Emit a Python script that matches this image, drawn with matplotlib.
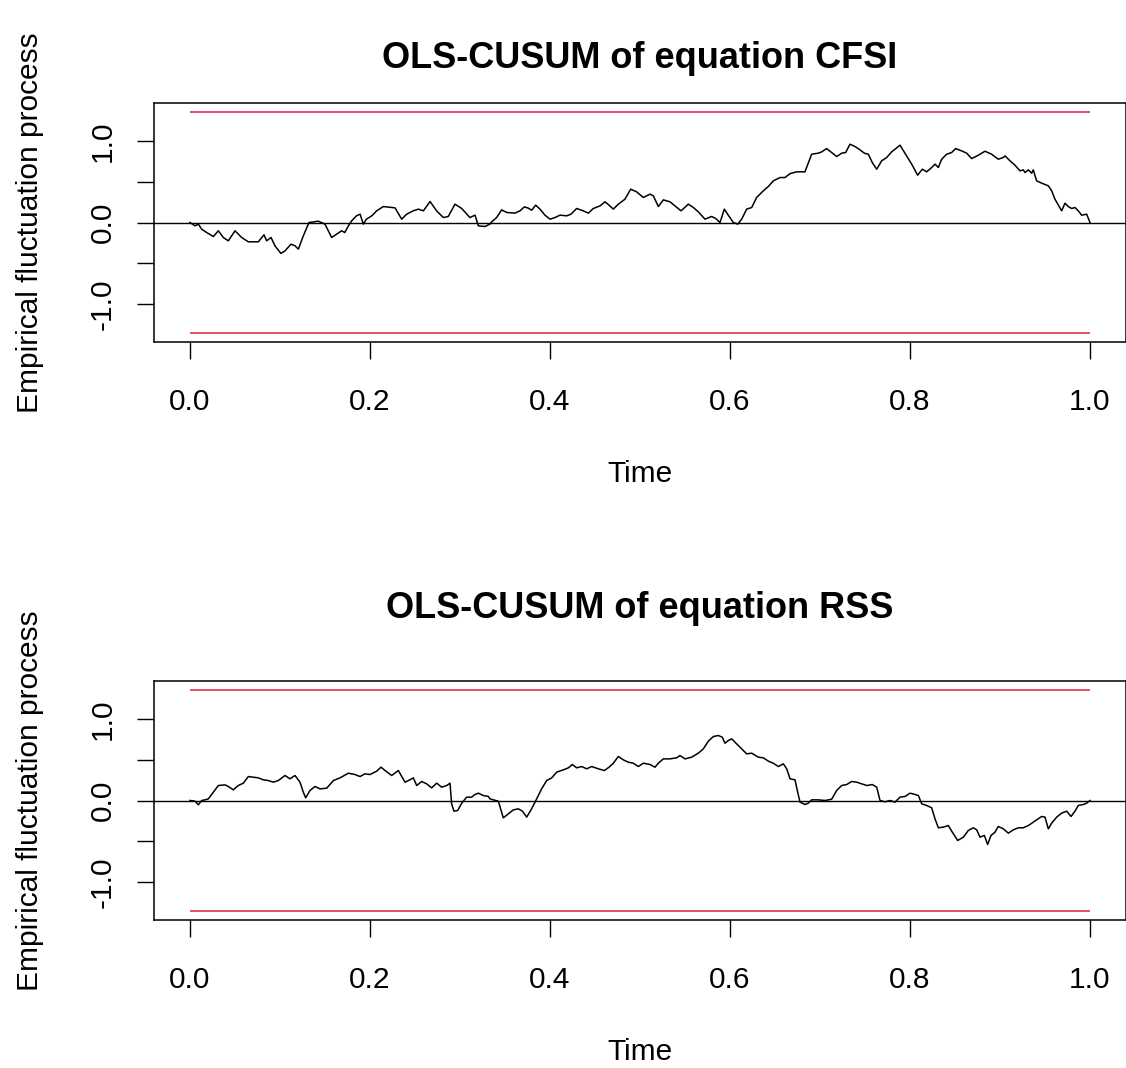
import matplotlib
matplotlib.use("Agg")
import matplotlib.pyplot as plt

plt.rcParams['font.family'] = ['Liberation Sans', 'DejaVu Sans']

# ---- data ----
t_cfsi = [0, 0.0056, 0.0093, 0.013, 0.0185, 0.026, 0.0315, 0.037, 0.0426, 0.05,
          0.0574, 0.0648, 0.0759, 0.0822, 0.0852, 0.09, 0.0944, 0.101, 0.1056, 0.1122,
          0.1167, 0.1204, 0.1259, 0.1322, 0.1426, 0.15, 0.1574, 0.163, 0.1685, 0.172,
          0.176, 0.1796, 0.185, 0.189, 0.1926, 0.196, 0.202, 0.2074, 0.2148, 0.2278,
          0.2352, 0.2407, 0.248, 0.2537, 0.2593, 0.2667, 0.274, 0.2815, 0.287, 0.2944,
          0.3019, 0.311, 0.3167, 0.3204, 0.3278, 0.3333, 0.3352, 0.3407, 0.3463, 0.3519,
          0.3611, 0.3667, 0.3715, 0.3759, 0.3796, 0.3841, 0.3889, 0.3944, 0.4, 0.4056,
          0.4111, 0.4185, 0.4233, 0.4296, 0.437, 0.4426, 0.4481, 0.4556, 0.4611, 0.4656,
          0.4704, 0.4759, 0.4833, 0.4896, 0.4963, 0.5037, 0.5111, 0.5148, 0.5204, 0.5259,
          0.5333, 0.5389, 0.5456, 0.5537, 0.5593, 0.5648, 0.5722, 0.5796, 0.5841, 0.5889,
          0.5937, 0.5981, 0.6037, 0.6085, 0.613, 0.6185, 0.6241, 0.6296, 0.637, 0.6426,
          0.6481, 0.6556, 0.6611, 0.6667, 0.6741, 0.6833, 0.6907, 0.6981, 0.7019, 0.7074,
          0.713, 0.7185, 0.7241, 0.7285, 0.7333, 0.7389, 0.7444, 0.7493, 0.7537, 0.7581,
          0.763, 0.7685, 0.7741, 0.7796, 0.7889, 0.7944, 0.8019, 0.8085, 0.8137, 0.8185,
          0.8241, 0.8278, 0.8315, 0.8352, 0.8407, 0.8463, 0.8507, 0.8574, 0.863, 0.8685,
          0.8759, 0.8833, 0.8907, 0.8981, 0.9037, 0.9056, 0.9111, 0.9167, 0.9222, 0.9259,
          0.9278, 0.9315, 0.9352, 0.937, 0.9407, 0.9463, 0.9537, 0.9574, 0.9611, 0.9685,
          0.9722, 0.9759, 0.9796, 0.9833, 0.987, 0.9907, 0.9963, 1.0]
v_cfsi = [0, -0.041, -0.020, -0.082, -0.123, -0.172, -0.102, -0.184, -0.225, -0.102,
          -0.184, -0.237, -0.237, -0.151, -0.225, -0.184, -0.286, -0.380, -0.348, -0.266,
          -0.286, -0.327, -0.164, 0.0, 0.016, -0.020, -0.184, -0.143, -0.102, -0.123,
          -0.041, 0.020, 0.082, 0.102, -0.020, 0.041, 0.082, 0.143, 0.196, 0.180,
          0.041, 0.102, 0.143, 0.164, 0.143, 0.258, 0.143, 0.061, 0.074, 0.225,
          0.172, 0.061, 0.090, -0.041, -0.049, -0.020, 0.008, 0.061, 0.155, 0.123,
          0.115, 0.143, 0.192, 0.176, 0.151, 0.213, 0.164, 0.090, 0.041, 0.061,
          0.090, 0.082, 0.102, 0.172, 0.143, 0.115, 0.172, 0.204, 0.254, 0.213,
          0.164, 0.225, 0.286, 0.409, 0.376, 0.307, 0.348, 0.327, 0.196, 0.278,
          0.254, 0.204, 0.143, 0.225, 0.184, 0.131, 0.041, 0.074, 0.049, 0.0,
          0.164, 0.090, 0.0, -0.020, 0.041, 0.164, 0.184, 0.307, 0.389, 0.442,
          0.511, 0.552, 0.552, 0.600, 0.622, 0.622, 0.838, 0.851, 0.867, 0.908,
          0.859, 0.810, 0.851, 0.859, 0.961, 0.933, 0.892, 0.851, 0.838, 0.736,
          0.654, 0.757, 0.798, 0.867, 0.949, 0.851, 0.716, 0.581, 0.654, 0.622,
          0.675, 0.716, 0.675, 0.777, 0.838, 0.859, 0.908, 0.879, 0.851, 0.785,
          0.826, 0.875, 0.838, 0.777, 0.798, 0.818, 0.757, 0.703, 0.634, 0.646,
          0.613, 0.646, 0.605, 0.646, 0.511, 0.483, 0.450, 0.389, 0.286, 0.143,
          0.237, 0.196, 0.172, 0.184, 0.143, 0.090, 0.102, 0.0]

t_rss = [0, 0.0056, 0.0093, 0.013, 0.0167, 0.0204, 0.026, 0.0315, 0.0389, 0.0426,
         0.0481, 0.0537, 0.0593, 0.0648, 0.0704, 0.0759, 0.0815, 0.087, 0.0926, 0.0981,
         0.1056, 0.1111, 0.1167, 0.1222, 0.1259, 0.1285, 0.1333, 0.1389, 0.1444, 0.1519,
         0.1593, 0.1667, 0.1759, 0.1833, 0.1889, 0.1944, 0.2, 0.2074, 0.2122, 0.2167,
         0.2241, 0.2315, 0.2389, 0.2444, 0.2481, 0.2519, 0.2574, 0.263, 0.2685, 0.2741,
         0.2796, 0.2852, 0.2889, 0.2907, 0.2933, 0.2974, 0.3019, 0.3074, 0.313, 0.3167,
         0.3204, 0.3259, 0.3315, 0.3333, 0.337, 0.3426, 0.3481, 0.3537, 0.3593, 0.3648,
         0.3693, 0.3741, 0.3796, 0.3852, 0.3907, 0.3963, 0.4019, 0.4074, 0.4148, 0.4204,
         0.4248, 0.4296, 0.4352, 0.4407, 0.4463, 0.4537, 0.4604, 0.4656, 0.4704, 0.4759,
         0.4815, 0.487, 0.4926, 0.4981, 0.5037, 0.5111, 0.5167, 0.5204, 0.5259, 0.5333,
         0.5407, 0.5444, 0.55, 0.5574, 0.5648, 0.5704, 0.5759, 0.5815, 0.587, 0.5915,
         0.5944, 0.5981, 0.6019, 0.6074, 0.613, 0.6185, 0.6241, 0.6315, 0.637, 0.6426,
         0.6481, 0.6537, 0.6593, 0.663, 0.6667, 0.6722, 0.6752, 0.6778, 0.6833, 0.687,
         0.6907, 0.6981, 0.7056, 0.713, 0.7185, 0.7241, 0.7296, 0.7352, 0.7407, 0.7463,
         0.7519, 0.7581, 0.763, 0.7667, 0.7722, 0.7778, 0.7833, 0.7889, 0.7944, 0.8,
         0.8056, 0.8093, 0.813, 0.8185, 0.8241, 0.8278, 0.8315, 0.837, 0.8426, 0.8463,
         0.853, 0.8593, 0.8648, 0.8704, 0.8741, 0.8778, 0.8826, 0.8863, 0.89, 0.8944,
         0.8981, 0.9037, 0.9093, 0.9148, 0.9204, 0.9259, 0.9315, 0.937, 0.9426, 0.9463,
         0.95, 0.9537, 0.9574, 0.963, 0.9685, 0.9741, 0.9789, 0.9833, 0.987, 0.9926,
         0.9963, 1.0]
v_rss = [0, -0.008, -0.053, 0.0, 0.008, 0.020, 0.102, 0.184, 0.192, 0.172,
         0.131, 0.184, 0.213, 0.294, 0.286, 0.278, 0.254, 0.245, 0.225, 0.245,
         0.307, 0.266, 0.307, 0.225, 0.102, 0.033, 0.123, 0.172, 0.143, 0.151,
         0.245, 0.278, 0.335, 0.319, 0.294, 0.327, 0.319, 0.360, 0.409, 0.368,
         0.307, 0.368, 0.225, 0.254, 0.278, 0.184, 0.233, 0.204, 0.155, 0.213,
         0.164, 0.184, 0.213, -0.041, -0.131, -0.123, -0.033, 0.041, 0.041, 0.074,
         0.090, 0.061, 0.050, 0.020, 0.008, -0.008, -0.213, -0.164, -0.115, -0.102,
         -0.131, -0.204, -0.102, 0.020, 0.143, 0.245, 0.278, 0.348, 0.376, 0.401,
         0.442, 0.401, 0.417, 0.389, 0.417, 0.389, 0.368, 0.409, 0.458, 0.540,
         0.499, 0.470, 0.458, 0.417, 0.458, 0.442, 0.409, 0.458, 0.511, 0.511,
         0.524, 0.552, 0.511, 0.532, 0.581, 0.634, 0.728, 0.785, 0.798, 0.777,
         0.703, 0.736, 0.757, 0.695, 0.634, 0.573, 0.581, 0.532, 0.524, 0.483,
         0.458, 0.417, 0.450, 0.389, 0.266, 0.254, 0.102, -0.020, -0.049, -0.033,
         0.008, 0.008, 0.0, 0.016, 0.123, 0.184, 0.196, 0.233, 0.225, 0.204,
         0.184, 0.196, 0.164, 0.0, -0.016, 0.0, -0.020, 0.041, 0.049, 0.090,
         0.074, 0.061, -0.041, -0.061, -0.090, -0.225, -0.335, -0.327, -0.307, -0.376,
         -0.491, -0.450, -0.368, -0.335, -0.360, -0.450, -0.429, -0.540, -0.429, -0.389,
         -0.319, -0.348, -0.401, -0.360, -0.335, -0.335, -0.307, -0.266, -0.225, -0.196,
         -0.204, -0.348, -0.278, -0.204, -0.155, -0.131, -0.196, -0.131, -0.061, -0.049,
         -0.033, 0.0]

boundary = 1.358
titles = ["OLS-CUSUM of equation CFSI", "OLS-CUSUM of equation RSS"]
series = [(t_cfsi, v_cfsi), (t_rss, v_rss)]
xticks = [0.0, 0.2, 0.4, 0.6, 0.8, 1.0]
xtick_labels = ["0.0", "0.2", "0.4", "0.6", "0.8", "1.0"]
yticks = [-1.0, -0.5, 0.0, 0.5, 1.0]
ytick_labels = ["-1.0", "", "0.0", "", "1.0"]
xlabel = "Time"
ylabel = "Empirical fluctuation process"

W, H = 1126, 1068
fig = plt.figure(figsize=(W / 100, H / 100), dpi=100)
fig.patch.set_facecolor("white")

panel_px = [(103, 342), (681, 920)]   # (top, bottom) of each plot box in pixels
title_pads = [25, 45]
red = "#DF536B"
fs = 21.5

for (top, bot), tpad, title, (t, v) in zip(panel_px, title_pads, titles, series):
    ax = fig.add_axes([154 / W, 1 - bot / H, 972 / W, (bot - top) / H])
    ax.plot(t, v, color="black", lw=1.1, zorder=3)
    ax.axhline(0, color="black", lw=1.0, zorder=2)
    ax.hlines([boundary, -boundary], 0, 1, color=red, lw=1.4, zorder=2)
    ax.set_xlim(-0.04, 1.04)
    ax.set_ylim(-1.467, 1.467)
    ax.set_xticks(xticks)
    ax.set_xticklabels(xtick_labels)
    ax.set_yticks(yticks)
    ax.set_yticklabels(ytick_labels, rotation=90, va="center")
    ax.tick_params(direction="out", length=12, width=1.0, labelsize=fs, color="black")
    ax.tick_params(axis="x", pad=21)
    ax.tick_params(axis="y", pad=15)
    for s in ax.spines.values():
        s.set_linewidth(1.1)
        s.set_color("black")
    ax.set_title(title, fontsize=26, fontweight="bold", pad=tpad)
    ax.set_xlabel(xlabel, fontsize=fs, labelpad=32)
    ax.set_ylabel(ylabel, fontsize=fs, labelpad=32)

fig.savefig("out.png", dpi=100, facecolor="white")
